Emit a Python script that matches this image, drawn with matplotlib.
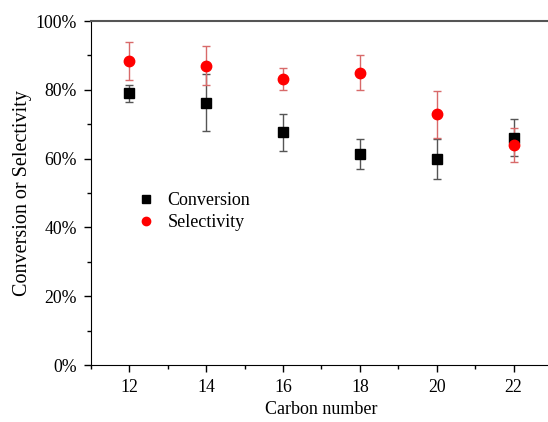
import numpy as np
import matplotlib.pyplot as plt
from matplotlib.lines import Line2D
from matplotlib.ticker import MultipleLocator, PercentFormatter

plt.rcParams['font.family'] = ['Liberation Serif', 'DejaVu Serif']

# datos
carbon = [12, 14, 16, 18, 20, 22]
conversion = [79.0, 76.3, 67.7, 61.4, 59.9, 66.1]
conversion_err = [2.5, 8.4, 5.4, 4.3, 5.8, 5.3]
selectivity = [88.4, 87.0, 83.2, 85.0, 72.9, 64.0]
selectivity_err = [5.6, 5.7, 3.2, 5.2, 6.8, 4.9]

fig = plt.figure(figsize=(5.48, 4.22), dpi=100)
ax = fig.add_axes([91 / 548, 57 / 422, 461 / 548, 344 / 422])

ax.errorbar(carbon, conversion, yerr=conversion_err, fmt='s', color='black',
            ecolor='#555555', elinewidth=1, capsize=3, capthick=1, markersize=6.5)
ax.errorbar(carbon, selectivity, yerr=selectivity_err, fmt='o', color='#ff0000',
            ecolor='#d86a6a', elinewidth=1, capsize=3, capthick=1, markersize=7.5)

ax.set_xlim(11, 23)
ax.set_ylim(0, 100)
ax.xaxis.set_major_locator(MultipleLocator(2))
ax.xaxis.set_minor_locator(MultipleLocator(1))
ax.yaxis.set_major_locator(MultipleLocator(20))
ax.yaxis.set_minor_locator(MultipleLocator(10))
ax.yaxis.set_major_formatter(PercentFormatter(decimals=0))

ax.tick_params(which='major', direction='out', length=5, width=1, labelsize=12.8,
               colors='black', pad=5)
ax.tick_params(which='minor', direction='out', length=3, width=1)
ax.spines['right'].set_visible(False)
ax.spines['top'].set_color('#555555')
ax.spines['top'].set_linewidth(1.5)

ax.set_xlabel('Carbon number', fontsize=13, labelpad=4)
ax.set_ylabel('Conversion or Selectivity', fontsize=14.5, labelpad=3)

handles = [Line2D([], [], ls='none', marker='s', color='black', markersize=5.5),
           Line2D([], [], ls='none', marker='o', color='#ff0000', markersize=6)]
ax.legend(handles, ['Conversion', 'Selectivity'], loc='upper left',
          bbox_to_anchor=(0.06, 0.55), frameon=False, fontsize=13,
          handletextpad=0.6, labelspacing=0.3, handlelength=1.2)

fig.savefig('out.png', dpi=100)
